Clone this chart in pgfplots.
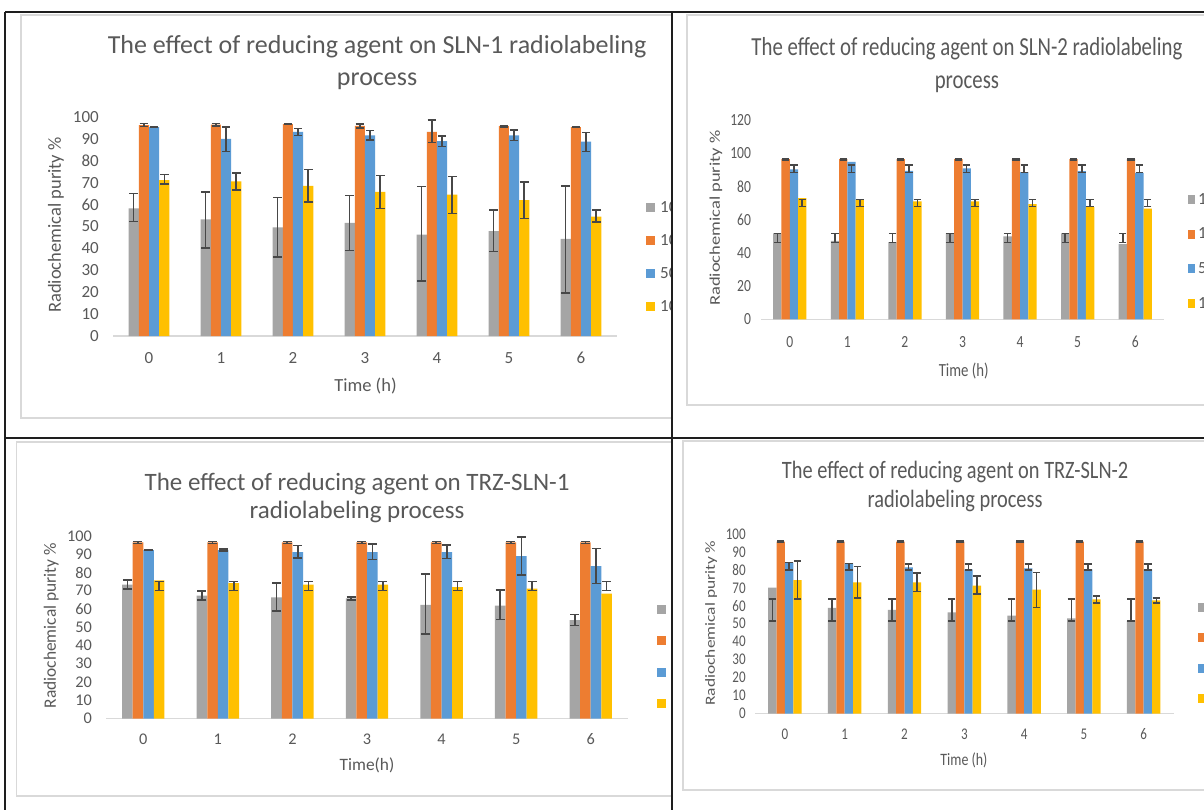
\documentclass[border=0pt]{standalone}
\usepackage{pgfplots}
\pgfplotsset{compat=1.18}
\usepackage{pgfplotstable}
\usepackage{fontspec}
\setmainfont{Carlito}

\definecolor{cgray}{HTML}{A5A5A5}
\definecolor{corange}{HTML}{ED7D31}
\definecolor{cblue}{HTML}{5B9BD5}
\definecolor{cyellow}{HTML}{FFC000}
\definecolor{txt}{HTML}{595959}
\definecolor{errc}{HTML}{474747}
\definecolor{axisc}{HTML}{D9D9D9}
\definecolor{framec}{HTML}{D9D9D9}
\definecolor{gridc}{HTML}{1E1E1E}

% columns: time, value, upper and lower end of the error bar for each series
% g = grey, o = orange, b = blue, y = yellow
\pgfplotstableread{
t g    gh   gl   o    oh   ol   b    bh   bl   y    yh   yl
0 58.3 65.0 52.2 96.3 97.0 95.6 95.4 95.6 95.2 71.2 73.7 69.3
1 53.3 65.8 40.3 96.5 97.0 96.0 90.0 95.3 84.2 70.6 74.3 66.8
2 49.6 63.2 36.1 96.8 97.1 96.5 93.2 94.8 91.6 68.5 76.1 61.2
3 51.6 64.1 39.0 95.9 96.9 94.9 91.6 93.8 89.5 65.8 73.2 58.3
4 46.3 68.2 25.1 93.2 98.6 88.3 89.0 91.3 86.6 64.5 72.8 56.0
5 47.9 57.4 38.5 95.8 96.1 95.5 91.6 94.0 89.2 62.1 70.2 53.7
6 44.3 68.6 19.6 95.4 95.6 95.2 88.7 92.9 84.2 54.5 57.4 52.1
}\tSLNa
\pgfplotstableread{
t g    gh   gl   o    oh   ol   b    bh   bl   y    yh   yl
0 51.8 51.8 46.2 96.4 96.8 96.0 90.2 92.8 88.4 73.0 72.2 67.8
1 47.2 51.8 46.2 96.4 96.8 96.0 94.8 92.8 88.4 72.0 72.2 67.8
2 46.4 51.8 46.2 96.4 96.8 96.0 89.4 92.8 88.4 71.0 72.2 67.8
3 51.8 51.8 46.2 96.4 96.8 96.0 90.8 92.8 88.4 71.0 72.2 67.8
4 50.0 51.8 46.2 96.4 96.8 96.0 88.6 92.8 88.4 69.4 72.2 67.8
5 51.8 51.8 46.2 96.4 96.8 96.0 89.2 92.8 88.4 67.6 72.2 67.8
6 45.2 51.8 46.2 96.4 96.8 96.0 88.2 92.8 88.4 66.6 72.2 67.8
}\tSLNb
\pgfplotstableread{
t g    gh   gl   o    oh   ol   b    bh   bl   y    yh   yl
0 73.3 75.9 70.9 96.5 97.0 96.0 92.3 92.6 92.0 75.7 75.0 70.2
1 67.3 69.8 64.9 96.5 97.0 96.0 92.3 92.8 91.8 74.2 75.0 70.2
2 66.4 74.4 58.9 96.5 97.0 96.0 91.2 94.9 87.9 73.3 75.0 70.2
3 65.8 66.7 64.9 96.5 97.0 96.0 91.2 95.6 87.2 73.3 75.0 70.2
4 62.2 79.2 46.3 96.5 97.0 96.0 91.2 95.2 87.6 72.0 75.0 70.2
5 61.8 70.4 54.3 96.5 97.0 96.0 89.0 99.3 78.6 71.1 75.0 70.2
6 53.9 57.0 51.0 96.5 97.0 96.0 83.5 93.2 74.0 68.4 75.0 70.2
}\tTRZa
\pgfplotstableread{
t g    gh   gl   o    oh   ol   b    bh   bl   y    yh   yl
0 70.1 63.8 51.5 95.7 96.1 95.3 84.0 84.0 79.9 74.3 85.1 63.8
1 58.9 63.8 51.5 95.7 96.1 95.3 83.6 83.6 79.9 73.0 81.8 64.3
2 57.8 63.8 51.5 95.7 96.1 95.3 81.4 83.3 79.9 73.0 78.4 68.0
3 56.3 63.8 51.5 95.7 96.1 95.3 80.3 83.3 79.9 71.2 76.6 66.5
4 54.5 63.8 51.5 95.7 96.1 95.3 80.9 83.3 79.9 69.0 78.6 59.1
5 53.0 63.8 51.5 95.7 96.1 95.3 80.3 83.3 79.9 63.6 65.6 61.7
6 51.7 63.8 51.5 95.7 96.1 95.3 80.3 83.3 79.9 63.0 64.3 61.7
}\tTRZb

\pgfplotsset{
  rpbar/.style={
    scale only axis, ybar=0pt, ymin=0, clip=false,
    xmin=-0.5, xmax=6.5, xtick={0,...,6},
    axis x line*=bottom, axis y line*=left,
    axis line style={-},
    x axis line style={draw=axisc, line width=1.3pt},
    y axis line style={draw=none},
    major tick length=0pt, tick style={draw=none},
    /pgf/number format/assume math mode=true,
    ticklabel style={text=txt, inner sep=0pt},
    xticklabel style={anchor=center},
    yticklabel style={anchor=east},
    label style={text=txt, anchor=center},
    title style={text=txt, align=center, anchor=center},
    legend style={draw=none, fill=none, anchor=west, inner sep=0pt,
      text=txt, nodes={inner sep=0pt}, cells={anchor=west}},
    legend cell align=left,
  },
}

% #1 colour, #2 column, #3 table, #4 slot (0..3) inside the group.
% The bar itself, then its error bar drawn on an unfilled twin bar whose
% centre is the middle of the interval [lower, upper].
\newcommand{\series}[4]{%
  \addplot[fill=#1, draw=none, bar shift={(#4-1.5)*\bw}] table[x=t, y=#2] {#3};
  \addplot[draw=none, fill=none, forget plot, bar shift={(#4-1.5)*\bw},
    error bars/.cd, y dir=both, y explicit,
    error bar style={draw=errc, line width=\ew},
    error mark options={draw=errc, line width=\ew, mark size=\ms, rotate=90}]
    table[x=t, y expr=(\thisrow{#2h}+\thisrow{#2l})/2,
      y error expr=(\thisrow{#2h}-\thisrow{#2l})/2] {#3};}

\begin{document}
\begin{tikzpicture}
\useasboundingbox (0pt,0pt) rectangle (1204pt,-810pt);
\fill[white] (0pt,0pt) rectangle (1204pt,-810pt);
\clip (0pt,0pt) rectangle (1204pt,-810pt);

% ---------------- SLN-1 ----------------
\begin{scope}
\clip (5pt,-12pt) rectangle (672pt,-438pt);
\draw[framec, line width=1.5pt] (20.8pt,-15pt) rectangle (700pt,-418pt);
\def\bw{10.2pt}\def\ew{1.6pt}\def\ms{4.3pt}
\begin{axis}[rpbar, at={(113pt,-336pt)}, anchor=south west,
  width=504pt, height=219pt, ymax=100, ytick={0,10,...,100},
  bar width=\bw,
  ticklabel style={font=\fontsize{17}{20}\selectfont},
  xticklabel style={yshift=-22pt}, yticklabel style={xshift=-14pt},
  title={The effect of reducing agent on SLN-1 radiolabeling\\process},
  title style={at={(0.524,1.219)}, font=\fontsize{26}{32}\selectfont},
  xlabel={Time (h)},
  xlabel style={at={(axis description cs:0.501,-0.228)}, font=\fontsize{18.5}{22}\selectfont},
  ylabel={Radiochemical purity \%},
  ylabel style={at={(axis description cs:-0.113,0.507)}, font=\fontsize{18.5}{22}\selectfont},
  legend style={at={(1.0575,0.361)}, font=\fontsize{17}{20}\selectfont, row sep=20.6pt},
  legend image code/.code={\fill[#1] (0pt,-4.5pt) rectangle (9pt,4.5pt); \path (14pt,0pt);},
]
\series{cgray}{g}{\tSLNa}{0}
\series{corange}{o}{\tSLNa}{1}
\series{cblue}{b}{\tSLNa}{2}
\series{cyellow}{y}{\tSLNa}{3}
\legend{10,10,50,10}
\end{axis}
\end{scope}

% ---------------- SLN-2 ----------------
\begin{scope}
\clip (672pt,-12pt) rectangle (1204pt,-438pt);
\draw[framec, line width=1.5pt] (687pt,-15pt) rectangle (1230pt,-405pt);
\def\bw{8.3pt}\def\ew{1.5pt}\def\ms{3.7pt}
\begin{axis}[rpbar, at={(761pt,-319.3pt)}, anchor=south west,
  width=403pt, height=199.3pt, ymax=120, ytick={0,20,...,120},
  bar width=\bw,
  ticklabel style={font=\fontsize{17}{20}\selectfont, xscale=0.8},
  xticklabel style={yshift=-23pt}, yticklabel style={xshift=-12.4pt},
  title={The effect of reducing agent on SLN-2 radiolabeling\\process},
  title style={at={(0.511,1.248)}, font=\fontsize{26}{33}\selectfont, xscale=0.8},
  xlabel={Time (h)},
  xlabel style={at={(axis description cs:0.503,-0.259)}, font=\fontsize{18.5}{22}\selectfont, xscale=0.8},
  ylabel={Radiochemical purity \%},
  ylabel style={at={(axis description cs:-0.112,0.508)}, font=\fontsize{18.5}{22}\selectfont, yscale=0.8},
  legend style={at={(1.0596,0.340)}, font=\fontsize{17}{20}\selectfont, row sep=22.3pt},
  legend image code/.code={\fill[#1] (0pt,-4.5pt) rectangle (7.2pt,4.5pt); \path (10pt,0pt);},
]
\series{cgray}{g}{\tSLNb}{0}
\series{corange}{o}{\tSLNb}{1}
\series{cblue}{b}{\tSLNb}{2}
\series{cyellow}{y}{\tSLNb}{3}
\legend{10,10,50,10}
\end{axis}
\end{scope}

% ---------------- TRZ-SLN-1 ----------------
\begin{scope}
\clip (5pt,-438pt) rectangle (672pt,-810pt);
\draw[framec, line width=1.5pt] (16.5pt,-442pt) rectangle (700pt,-796pt);
\def\bw{10.6pt}\def\ew{1.6pt}\def\ms{4.5pt}
\begin{axis}[rpbar, at={(106pt,-718.5pt)}, anchor=south west,
  width=522pt, height=182.5pt, ymax=100, ytick={0,10,...,100},
  bar width=\bw,
  ticklabel style={font=\fontsize{16.3}{19}\selectfont},
  xticklabel style={yshift=-20.5pt}, yticklabel style={xshift=-14pt},
  title={The effect of reducing agent on TRZ-SLN-1\\radiolabeling process},
  title style={at={(0.481,1.175)}, font=\fontsize{25}{28.5}\selectfont},
  xlabel={Time(h)},
  xlabel style={at={(axis description cs:0.5,-0.255)}, font=\fontsize{17.4}{21}\selectfont},
  ylabel={Radiochemical purity \%},
  ylabel style={at={(axis description cs:-0.105,0.508)}, font=\fontsize{17.4}{21}\selectfont},
  legend style={at={(1.0556,0.340)}, font=\fontsize{16}{19}\selectfont, row sep=19.6pt},
  legend image code/.code={\fill[#1] (0pt,-4.5pt) rectangle (9pt,4.5pt); \path (14pt,0pt);},
]
\series{cgray}{g}{\tTRZa}{0}
\series{corange}{o}{\tTRZa}{1}
\series{cblue}{b}{\tTRZa}{2}
\series{cyellow}{y}{\tTRZa}{3}
\legend{10,10,50,10}
\end{axis}
\end{scope}

% ---------------- TRZ-SLN-2 ----------------
\begin{scope}
\clip (672pt,-438pt) rectangle (1204pt,-810pt);
\draw[framec, line width=1.5pt] (683pt,-441pt) rectangle (1230pt,-790pt);
\def\bw{8.36pt}\def\ew{1.5pt}\def\ms{3.7pt}
\begin{axis}[rpbar, at={(755pt,-713.5pt)}, anchor=south west,
  width=418.6pt, height=179.5pt, ymax=100, ytick={0,10,...,100},
  bar width=\bw,
  ticklabel style={font=\fontsize{16.3}{19}\selectfont, xscale=0.8},
  xticklabel style={yshift=-20.5pt}, yticklabel style={xshift=-11.5pt},
  title={The effect of reducing agent on TRZ-SLN-2\\radiolabeling process},
  title style={at={(0.478,1.231)}, font=\fontsize{25}{29}\selectfont, xscale=0.815},
  xlabel={Time (h)},
  xlabel style={at={(axis description cs:0.499,-0.259)}, font=\fontsize{17.4}{21}\selectfont, xscale=0.8},
  ylabel={Radiochemical purity \%},
  ylabel style={at={(axis description cs:-0.105,0.504)}, font=\fontsize{17.4}{21}\selectfont, yscale=0.8},
  legend style={at={(1.0583,0.338)}, font=\fontsize{16}{19}\selectfont, row sep=18.6pt},
  legend image code/.code={\fill[#1] (0pt,-4.5pt) rectangle (7.2pt,4.5pt); \path (10pt,0pt);},
]
\series{cgray}{g}{\tTRZb}{0}
\series{corange}{o}{\tTRZb}{1}
\series{cblue}{b}{\tTRZb}{2}
\series{cyellow}{y}{\tTRZb}{3}
\legend{10,10,50,10}
\end{axis}
\end{scope}

% table rules separating the four charts
\draw[gridc, line width=1.8pt] (5pt,-12pt) -- (1204pt,-12pt);
\draw[gridc, line width=1.8pt] (5pt,-438pt) -- (1204pt,-438pt);
\draw[gridc, line width=1.8pt] (5pt,-12pt) -- (5pt,-810pt);
\draw[gridc, line width=1.8pt] (672pt,-12pt) -- (672pt,-810pt);
\end{tikzpicture}
\end{document}
